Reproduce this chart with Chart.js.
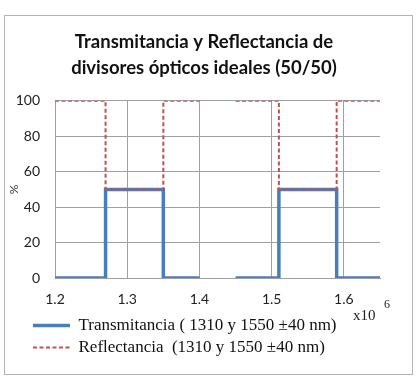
<!DOCTYPE html>
<html>
<head>
<meta charset="utf-8">
<script src="https://cdn.jsdelivr.net/npm/chart.js@4"></script>
<style>
  html, body { margin: 0; padding: 0; background: #fff; }
  #wrap { width: 416px; height: 376px; }
</style>
</head>
<body>
<div id="wrap"><canvas id="chart" width="416" height="376"></canvas></div>
<script>
// wavelength in micrometres (axis is x10^-6 m); null y breaks the line
const waveX = [1.2, 1.27, 1.27, 1.35, 1.35, 1.4, 1.42, 1.45, 1.51, 1.51, 1.59, 1.59, 1.65];
const transY = [0, 0, 50, 50, 0, 0, null, 0, 0, 50, 50, 0, 0];
const reflY = [100, 100, 50, 50, 100, 100, null, 100, 100, 50, 50, 100, 100];
const yTicks = [0, 20, 40, 60, 80, 100];
const xTicks = [1.2, 1.3, 1.4, 1.5, 1.6];

const titleLines = ["Transmitancia y Reflectancia de", "divisores ópticos ideales (50/50)"];
const transLabel = "Transmitancia ( 1310 y 1550 ±40 nm)";
const reflLabel = "Reflectancia  (1310 y 1550 ±40 nm)";

const toPoints = (ys) => waveX.map((x, i) => ({ x, y: ys[i] }));

const frame = {
  id: "frame",
  afterLayout(chart) {
    // title is centred on the whole frame, legend rows are indented
    chart.titleBlock.left = 4;
    chart.titleBlock.right = 404;
    chart.legend.left = 28;
  },
  beforeDraw(chart) {
    const ctx = chart.ctx;
    ctx.save();
    ctx.strokeStyle = "#b4b4b4";
    ctx.lineWidth = 1;
    ctx.strokeRect(4.5, 15.5, 408, 359);
    ctx.restore();
  },
  afterDraw(chart) {
    const ctx = chart.ctx;
    ctx.save();
    ctx.fillStyle = "#222";
    ctx.textBaseline = "middle";
    ctx.font = "15px 'Liberation Serif'";
    ctx.fillText("x10", 353, 316);
    ctx.font = "12px 'Liberation Serif'";
    ctx.fillText("6", 384, 305);
    ctx.restore();
  },
};

new Chart(document.getElementById("chart"), {
  type: "scatter",
  data: {
    datasets: [
      {
        label: reflLabel,
        data: toPoints(reflY),
        showLine: true,
        borderColor: "#c0504d",
        backgroundColor: "#c0504d",
        borderWidth: 2,
        borderDash: [4, 2.5],
        pointRadius: 0,
        spanGaps: false,
      },
      {
        label: transLabel,
        data: toPoints(transY),
        showLine: true,
        borderColor: "#4a7ebb",
        backgroundColor: "#4a7ebb",
        borderWidth: 3.5,
        pointRadius: 0,
        spanGaps: false,
      },
    ],
  },
  options: {
    responsive: false,
    animation: false,
    layout: { padding: { top: 18, left: 4, right: 36, bottom: 10 } },
    plugins: {
      tooltip: { enabled: false },
      title: {
        display: true,
        text: titleLines,
        color: "#111",
        font: { family: "Lato", size: 18.5, weight: "bold", lineHeight: 1.4 },
        padding: { top: 11, bottom: 20 },
      },
      legend: {
        position: "bottom",
        align: "start",
        labels: {
          usePointStyle: true,
          pointStyle: "line",
          pointStyleWidth: 37,
          boxHeight: 17,
          padding: 5,
          color: "#111",
          font: { family: "'Liberation Serif'", size: 17 },
          sort: (a, b) => b.datasetIndex - a.datasetIndex,
          generateLabels: (chart) => {
            const items = Chart.defaults.plugins.legend.labels.generateLabels(chart);
            items.forEach((item) => {
              const ds = chart.data.datasets[item.datasetIndex];
              item.lineDash = ds.borderDash || [];
              item.lineWidth = ds.borderWidth;
              item.strokeStyle = ds.borderColor;
            });
            return items;
          },
        },
      },
    },
    scales: {
      x: {
        type: "linear",
        min: 1.2,
        max: 1.65,
        afterBuildTicks: (axis) => {
          axis.ticks = xTicks.map((v) => ({ value: v }));
        },
        afterFit: (axis) => {
          axis.height = 34;
        },
        border: { color: "#a0a0a0" },
        grid: { color: "#a0a0a0", drawTicks: false },
        ticks: {
          padding: 13,
          color: "#222",
          font: { family: "Lato", size: 14 },
          callback: (v) => v.toFixed(1),
        },
      },
      y: {
        min: 0,
        max: 100,
        afterBuildTicks: (axis) => {
          axis.ticks = yTicks.map((v) => ({ value: v }));
        },
        afterFit: (axis) => {
          axis.width = 51;
        },
        border: { color: "#a0a0a0" },
        grid: { color: "#a0a0a0", drawTicks: false },
        title: {
          display: true,
          text: "%",
          color: "#333",
          font: { family: "Lato", size: 12 },
          padding: { top: 3, bottom: 0 },
        },
        ticks: {
          padding: 15,
          color: "#222",
          font: { family: "Lato", size: 14 },
        },
      },
    },
  },
  plugins: [frame],
});
</script>
</body>
</html>
